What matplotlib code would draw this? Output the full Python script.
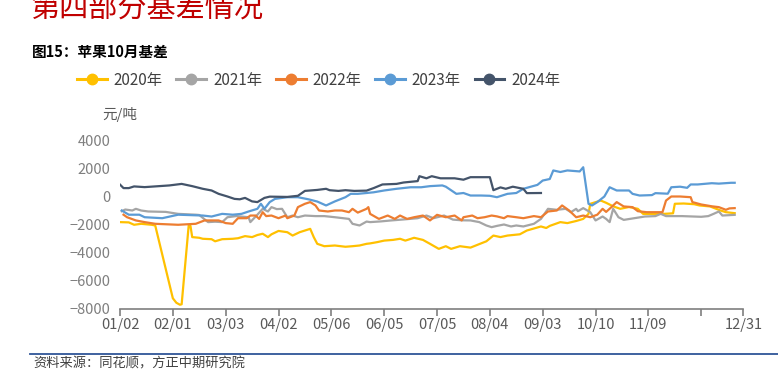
import matplotlib
matplotlib.use("Agg")
import matplotlib.pyplot as plt

plt.rcParams['font.family'] = ['Noto Sans CJK SC', 'DejaVu Sans']

# x = trading-day index from 01/02, tick label every 30 days
tick_pos = [0, 30, 60, 90, 120, 150, 180, 210, 240, 270, 300, 330, 354]
tick_labels = ['01/02', '02/01', '03/03', '04/02', '05/06', '06/05', '07/05',
               '08/04', '09/03', '10/10', '11/09', '', '12/31']

x_2020 = [0, 5, 8, 12, 18, 20, 30, 32, 34, 35, 39, 40, 41, 45, 47, 52, 54, 58, 64, 67,
          71, 75, 78, 81, 84, 86, 90, 95, 98, 102, 105, 108, 110, 112, 116, 122, 128, 132,
          136, 140, 142, 146, 150, 155, 159, 162, 167, 172, 176, 181, 185, 188, 193, 199,
          203, 208, 212, 216, 220, 227, 231, 239, 242, 244, 250, 254, 259, 263, 266, 267,
          273, 276, 280, 284, 289, 294, 297, 309, 314, 315, 320, 326, 329, 335, 341, 344, 349]
v_2020 = [-1830, -1850, -2020, -1950, -2020, -2070, -7270, -7590, -7730, -7700, -2070, -2100,
          -2900, -2950, -3020, -3050, -3200, -3050, -3020, -2980, -2830, -2900, -2750, -2660,
          -2900, -2700, -2460, -2550, -2790, -2550, -2430, -2310, -2900, -3380, -3550, -3500,
          -3590, -3550, -3500, -3380, -3350, -3260, -3150, -3100, -3020, -3150, -2950, -3100,
          -3380, -3740, -3550, -3740, -3550, -3650, -3450, -3200, -2790, -2900, -2790, -2700,
          -2430, -2140, -2250, -2100, -1830, -1900, -1750, -1600, -1240, -520, -290, -450,
          -700, -880, -750, -880, -1240, -1240, -1200, -520, -500, -550, -640, -710, -1000,
          -1120, -1190]

x_2021 = [1, 3, 7, 9, 12, 16, 26, 33, 43, 45, 50, 54, 58, 61, 66, 73, 74, 78, 81, 84, 86,
          89, 92, 95, 98, 101, 105, 111, 116, 122, 130, 132, 136, 140, 142, 148, 154, 161,
          169, 174, 178, 184, 189, 194, 199, 204, 208, 211, 214, 218, 222, 225, 229, 235,
          239, 243, 248, 253, 256, 259, 260, 263, 267, 270, 274, 276, 278, 280, 283, 286,
          292, 298, 304, 307, 310, 319, 330, 334, 337, 340, 342, 349]
v_2021 = [-1050, -930, -1000, -880, -1000, -1070, -1100, -1240, -1300, -1320, -1830, -1800,
          -1830, -1480, -1400, -1480, -1830, -1300, -880, -1070, -760, -900, -880, -1480,
          -1360, -1480, -1360, -1400, -1400, -1480, -1600, -1950, -2070, -1790, -1830, -1780,
          -1710, -1640, -1550, -1360, -1550, -1360, -1650, -1700, -1710, -1830, -2070, -2190,
          -2100, -2000, -2140, -2070, -2140, -1950, -1600, -880, -950, -880, -1120, -880,
          -1050, -830, -1120, -1710, -1430, -1600, -1830, -880, -1480, -1670, -1550, -1430,
          -1400, -1240, -1400, -1400, -1450, -1400, -1240, -1070, -1360, -1310]

x_2022 = [2, 4, 9, 14, 20, 33, 43, 48, 56, 60, 64, 67, 72, 74, 77, 79, 81, 83, 86, 90, 94,
          95, 99, 101, 105, 108, 111, 113, 118, 122, 126, 130, 132, 135, 140, 141, 142, 147,
          152, 156, 159, 163, 167, 172, 176, 180, 185, 190, 194, 195, 200, 203, 207, 211,
          214, 218, 220, 225, 229, 235, 239, 243, 248, 251, 255, 259, 263, 267, 271, 274,
          276, 279, 282, 286, 291, 294, 299, 308, 310, 313, 318, 324, 325, 330, 336, 340,
          344, 346, 349]
v_2022 = [-1300, -1480, -1710, -1830, -1950, -2020, -1950, -1710, -1710, -1900, -1950, -1550,
          -1550, -1360, -1360, -1600, -1120, -1400, -1360, -1550, -1360, -1550, -1360, -760,
          -520, -400, -640, -1000, -1070, -1000, -1000, -1120, -880, -1150, -880, -760, -1240,
          -1600, -1360, -1600, -1360, -1600, -1480, -1360, -1710, -1310, -1480, -1360, -1710,
          -1480, -1360, -1550, -1480, -1360, -1420, -1550, -1400, -1480, -1550, -1400, -1480,
          -1070, -1000, -640, -1000, -1480, -1360, -1480, -1300, -880, -1100, -760, -400,
          -710, -760, -1050, -1120, -1120, -290, 0, 0, -50, -400, -570, -700, -760, -950,
          -850, -830]

x_2023 = [1, 5, 11, 14, 24, 33, 47, 52, 58, 64, 69, 73, 78, 80, 82, 85, 88, 95, 101, 107,
          112, 117, 122, 128, 131, 135, 140, 144, 150, 157, 165, 171, 176, 183, 185, 191, 195,
          199, 205, 210, 214, 220, 225, 229, 237, 240, 244, 246, 250, 254, 261, 263, 266, 268,
          271, 275, 278, 282, 289, 291, 295, 302, 304, 311, 313, 318, 322, 324, 328, 336, 340,
          347, 349]
v_2023 = [-1000, -1300, -1300, -1480, -1550, -1300, -1360, -1430, -1240, -1300, -1240, -1070,
          -880, -520, -880, -400, -170, -50, -50, -200, -360, -640, -350, -50, 190, 190, 250,
          300, 430, 550, 660, 660, 740, 790, 700, 190, 250, 70, 70, 50, -50, 190, 250, 550,
          830, 1140, 1250, 1860, 1750, 1860, 1790, 2090, -520, -640, -400, 0, 660, 430, 430,
          190, 70, 100, 240, 200, 660, 700, 620, 860, 860, 950, 920, 980, 980]

x_2024 = [0, 2, 5, 8, 14, 28, 35, 41, 47, 52, 56, 61, 65, 68, 71, 75, 78, 82, 85, 95, 101,
          105, 112, 117, 119, 124, 128, 133, 140, 144, 149, 157, 161, 169, 170, 174, 177, 182,
          190, 195, 199, 206, 210, 212, 216, 219, 223, 229, 231, 239]
v_2024 = [850, 600, 600, 720, 670, 790, 900, 740, 550, 430, 190, 0, -170, -200, -100, -350,
          -400, -100, -10, -30, 50, 400, 470, 550, 450, 400, 450, 400, 420, 600, 860, 900,
          1000, 1100, 1450, 1300, 1450, 1300, 1300, 1200, 1380, 1380, 1380, 450, 650, 550,
          700, 550, 240, 250]

series = [
    ('2020年', x_2020, v_2020, '#FFC000'),
    ('2021年', x_2021, v_2021, '#A5A5A5'),
    ('2022年', x_2022, v_2022, '#ED7D31'),
    ('2023年', x_2023, v_2023, '#5B9BD5'),
    ('2024年', x_2024, v_2024, '#44546A'),
]

fig = plt.figure(figsize=(7.78, 3.74), dpi=100)
ax = fig.add_axes([120 / 778, 65.5 / 374, 623.5 / 778, 168 / 374])

handles = []
for label, xs, vs, color in series:
    ax.plot(xs, vs, color=color, linewidth=1.6, solid_joinstyle='round')
    h, = ax.plot([], [], color=color, linewidth=2.2, marker='o', markersize=7.5, label=label)
    handles.append(h)

ax.set_xlim(0, 354)
ax.set_ylim(-8000, 4000)
ax.set_yticks([-8000, -6000, -4000, -2000, 0, 2000, 4000])
ax.set_xticks(tick_pos)
ax.set_xticklabels(tick_labels)

for side in ['top', 'right', 'left']:
    ax.spines[side].set_visible(False)
ax.spines['bottom'].set_color('#7F7F7F')
ax.spines['bottom'].set_linewidth(1.2)
ax.tick_params(axis='y', length=0, labelsize=10.5, labelcolor='#7F7F7F', pad=7)
ax.tick_params(axis='x', length=5, width=1.2, color='#7F7F7F', labelsize=10.5,
               labelcolor='#595959', pad=2)

fig.text(102 / 778, 1 - 115 / 374, '元/吨', fontsize=10.5, color='#595959', va='center')

fig.legend(handles=handles, loc='center left', bbox_to_anchor=(77 / 778, 1 - 80 / 374),
           ncol=5, frameon=False, fontsize=11, handlelength=1.95, handletextpad=0.45,
           columnspacing=0.9, borderpad=0, borderaxespad=0, labelcolor='#404040')

fig.text(31 / 778, 1 - 10 / 374, '第四部分基差情况', fontsize=21, color='#C00000', va='center')
fig.text(32 / 778, 1 - 52 / 374, '图15：苹果10月基差', fontsize=10.5, fontweight='bold',
         color='black', va='center')

fig.add_artist(plt.Line2D([30 / 778, 1], [1 - 354 / 374, 1 - 354 / 374],
                          transform=fig.transFigure, color='#2F5597', linewidth=1.3))
fig.text(33 / 778, 1 - 364 / 374, '资料来源：同花顺，方正中期研究院', fontsize=9.5,
         style='italic', color='#404040', va='center')

fig.savefig('out.png', dpi=100)
